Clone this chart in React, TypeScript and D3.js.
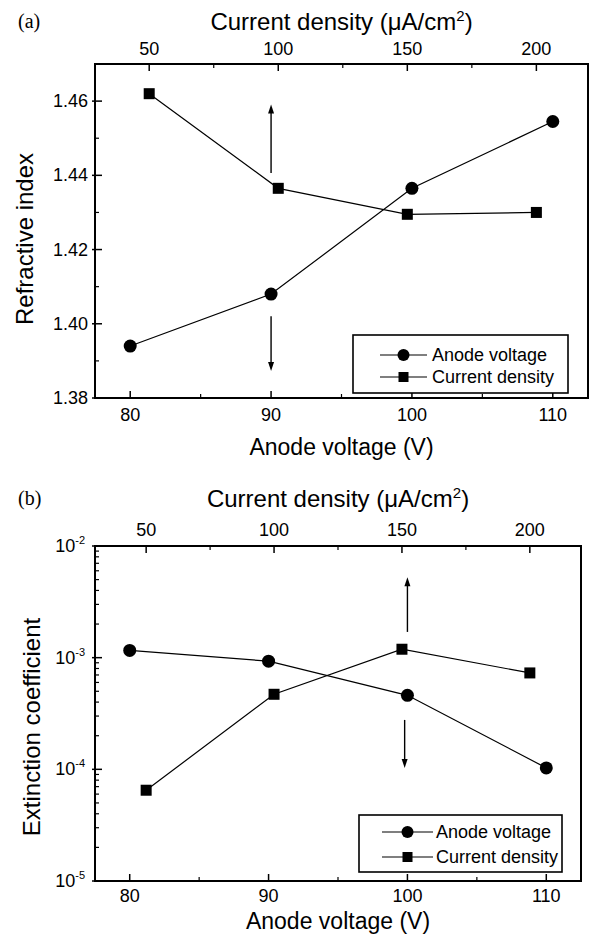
import React from "react";
import * as d3 from "d3";

// ---------- data ----------
const anodeVoltage = [80, 90, 100, 110];
const currentDensity = [50, 100, 150, 200];
const refractiveByVoltage = [1.394, 1.408, 1.4365, 1.4545];
const refractiveByCurrent = [1.462, 1.4365, 1.4295, 1.43];
const extinctionByVoltage = [1.16e-3, 9.3e-4, 4.6e-4, 1.03e-4];
const extinctionByCurrent = [6.5e-5, 4.7e-4, 1.19e-3, 7.3e-4];

const voltageTicks = [80, 90, 100, 110];
const voltageMinorTicks = [85, 95, 105];
const currentTicks = [50, 100, 150, 200];
const currentMinorTicks = [75, 125, 175];
const refractiveTicks = [1.38, 1.4, 1.42, 1.44, 1.46];
const refractiveMinorTicks = [1.39, 1.41, 1.43, 1.45, 1.47];
const extinctionTicks = [1e-5, 1e-4, 1e-3, 1e-2];
const extinctionTickExps = ["-5", "-4", "-3", "-2"];
const legendLabels = ["Anode voltage", "Current density"];

const arrowsA = [
  { x: 90, from: 1.4406, to: 1.4591 },
  { x: 90, from: 1.402, to: 1.3873 },
];
const arrowsB = [
  { x: 100, from: 1.7e-3, to: 5.25e-3 },
  { x: 99.8, from: 2.77e-4, to: 1.03e-4 },
];

const FONT = "'Liberation Sans', Arial, Helvetica, sans-serif";

type PanelProps = {
  label: string;
  left: number;
  right: number;
  top: number;
  bottom: number;
  log: boolean;
  yTitle: string;
  yByVoltage: number[];
  yByCurrent: number[];
  arrows: { x: number; from: number; to: number }[];
  currentDomain: [number, number];
  legend: { x0: number; y0: number; x1: number; y1: number; row1: number; row2: number; lineX0: number; lineX1: number; textX: number };
  titleY: number;
  tickLabelY: number;
  xTitleY: number;
  yTitleX: number;
  yTitleCY: number;
  topTitleY: number;
  topTickY: number;
};

function Panel(p: PanelProps) {
  const x = d3.scaleLinear().domain([77.5, 112.5]).range([p.left, p.right]);
  const xTop = d3.scaleLinear().domain(p.currentDomain).range([p.left, p.right]);
  const y: any = p.log
    ? d3.scaleLog().domain([1e-5, 1e-2]).range([p.bottom, p.top])
    : d3.scaleLinear().domain([1.38, 1.47]).range([p.bottom, p.top]);

  const line = d3.line<[number, number]>().x((d) => d[0]).y((d) => d[1]);
  const vPts: [number, number][] = anodeVoltage.map((v, i) => [x(v), y(p.yByVoltage[i])]);
  const cPts: [number, number][] = currentDensity.map((c, i) => [xTop(c), y(p.yByCurrent[i])]);

  const majorLen = 7;
  const minorLen = 4;

  let yMajor: number[] = [];
  let yMinor: number[] = [];
  if (p.log) {
    yMajor = extinctionTicks;
    for (const t of extinctionTicks.slice(0, 3)) {
      for (const m of [2, 3, 4, 5, 6, 7, 8, 9]) yMinor.push(t * m);
    }
  } else {
    yMajor = refractiveTicks;
    yMinor = refractiveMinorTicks;
  }

  const cx = (p.left + p.right) / 2;
  const sq = 11;

  return (
    <g>
      <text x={18} y={p.titleY} fontFamily="'Liberation Serif', 'Times New Roman', serif" fontSize={20}>
        {p.label}
      </text>
      {/* top title */}
      <text x={cx} y={p.topTitleY} textAnchor="middle" fontFamily={FONT} fontSize={24}>
        Current density (μA/cm
        <tspan dy={-9} fontSize={15}>2</tspan>
        <tspan dy={9}>)</tspan>
      </text>
      {/* frame */}
      <rect x={p.left} y={p.top} width={p.right - p.left} height={p.bottom - p.top} fill="none" stroke="#000" strokeWidth={2} />
      {/* bottom ticks */}
      {voltageTicks.map((t) => (
        <g key={"vb" + t}>
          <line x1={x(t)} x2={x(t)} y1={p.bottom} y2={p.bottom - majorLen} stroke="#000" strokeWidth={1.5} />
          <text x={x(t)} y={p.tickLabelY} textAnchor="middle" fontFamily={FONT} fontSize={18}>
            {t}
          </text>
        </g>
      ))}
      {voltageMinorTicks.map((t) => (
        <line key={"vm" + t} x1={x(t)} x2={x(t)} y1={p.bottom} y2={p.bottom - minorLen} stroke="#000" strokeWidth={1.2} />
      ))}
      {/* top ticks */}
      {currentTicks.map((t) => (
        <g key={"ct" + t}>
          <line x1={xTop(t)} x2={xTop(t)} y1={p.top} y2={p.top + majorLen} stroke="#000" strokeWidth={1.5} />
          <text x={xTop(t)} y={p.topTickY} textAnchor="middle" fontFamily={FONT} fontSize={18}>
            {t}
          </text>
        </g>
      ))}
      {currentMinorTicks.map((t) => (
        <line key={"cm" + t} x1={xTop(t)} x2={xTop(t)} y1={p.top} y2={p.top + minorLen} stroke="#000" strokeWidth={1.2} />
      ))}
      {/* left ticks */}
      {yMajor.map((t, i) => (
        <g key={"ym" + i}>
          <line x1={p.left - 3} x2={p.left + majorLen} y1={y(t)} y2={y(t)} stroke="#000" strokeWidth={1.5} />
          {p.log ? (
            <text x={p.left - 10} y={y(t) + 6} textAnchor="end" fontFamily={FONT} fontSize={18}>
              10
              <tspan dy={-8} fontSize={11}>{extinctionTickExps[i]}</tspan>
            </text>
          ) : (
            <text x={p.left - 7} y={y(t) + 6} textAnchor="end" fontFamily={FONT} fontSize={18}>
              {t.toFixed(2)}
            </text>
          )}
        </g>
      ))}
      {yMinor.map((t, i) => (
        <line key={"yn" + i} x1={p.left} x2={p.left + minorLen} y1={y(t)} y2={y(t)} stroke="#000" strokeWidth={1.2} />
      ))}
      {/* axis titles */}
      <text x={cx} y={p.xTitleY} textAnchor="middle" fontFamily={FONT} fontSize={23}>
        Anode voltage (V)
      </text>
      <text
        transform={`translate(${p.yTitleX},${p.yTitleCY}) rotate(-90)`}
        textAnchor="middle"
        fontFamily={FONT}
        fontSize={24}
      >
        {p.yTitle}
      </text>
      {/* arrows */}
      {p.arrows.map((a, i) => {
        const ax = x(a.x);
        const y1 = y(a.from);
        const y2 = y(a.to);
        const dir = y2 < y1 ? -1 : 1;
        const head = 9;
        return (
          <g key={"ar" + i}>
            <line x1={ax} x2={ax} y1={y1} y2={y2 - dir * head * 0.6} stroke="#000" strokeWidth={1.4} />
            <path d={`M${ax},${y2} L${ax - 3},${y2 - dir * head} L${ax + 3},${y2 - dir * head} Z`} fill="#000" />
          </g>
        );
      })}
      {/* data lines */}
      <path d={line(vPts) || ""} fill="none" stroke="#000" strokeWidth={1.2} />
      <path d={line(cPts) || ""} fill="none" stroke="#000" strokeWidth={1.2} />
      {vPts.map((d, i) => (
        <circle key={"vp" + i} cx={d[0]} cy={d[1]} r={6.5} fill="#000" />
      ))}
      {cPts.map((d, i) => (
        <rect key={"cp" + i} x={d[0] - sq / 2} y={d[1] - sq / 2} width={sq} height={sq} fill="#000" />
      ))}
      {/* legend */}
      <rect
        x={p.legend.x0}
        y={p.legend.y0}
        width={p.legend.x1 - p.legend.x0}
        height={p.legend.y1 - p.legend.y0}
        fill="#fff"
        stroke="#000"
        strokeWidth={1.6}
      />
      {legendLabels.map((lab, i) => {
        const ly = i === 0 ? p.legend.row1 : p.legend.row2;
        const mx = (p.legend.lineX0 + p.legend.lineX1) / 2;
        return (
          <g key={"lg" + i}>
            <line x1={p.legend.lineX0} x2={p.legend.lineX1} y1={ly} y2={ly} stroke="#000" strokeWidth={1.2} />
            {i === 0 ? (
              <circle cx={mx} cy={ly} r={6} fill="#000" />
            ) : (
              <rect x={mx - 5} y={ly - 5} width={10} height={10} fill="#000" />
            )}
            <text x={p.legend.textX} y={ly + 6} fontFamily={FONT} fontSize={18}>
              {lab}
            </text>
          </g>
        );
      })}
    </g>
  );
}

export default function App() {
  return (
    <svg
      width={595}
      height={945}
      viewBox="0 0 595 945"
      style={{ position: "absolute", left: 0, top: 0, background: "#fff" }}
    >
      <rect width={595} height={945} fill="#fff" />
      <Panel
        label="(a)"
        left={95}
        right={588}
        top={64}
        bottom={398}
        log={false}
        yTitle="Refractive index"
        yByVoltage={refractiveByVoltage}
        yByCurrent={refractiveByCurrent}
        arrows={arrowsA}
        currentDomain={[29, 220]}
        legend={{ x0: 353, y0: 335, x1: 568, y1: 393, row1: 355, row2: 377, lineX0: 380, lineX1: 427, textX: 432 }}
        titleY={28}
        topTitleY={30}
        topTickY={55}
        tickLabelY={421}
        xTitleY={455}
        yTitleX={33}
        yTitleCY={239}
      />
      <Panel
        label="(b)"
        left={95}
        right={581}
        top={546}
        bottom={881}
        log={true}
        yTitle="Extinction coefficient"
        yByVoltage={extinctionByVoltage}
        yByCurrent={extinctionByCurrent}
        arrows={arrowsB}
        currentDomain={[30, 220]}
        legend={{ x0: 359, y0: 815, x1: 562, y1: 872, row1: 832, row2: 857, lineX0: 382, lineX1: 433, textX: 436 }}
        titleY={505}
        topTitleY={507}
        topTickY={536}
        tickLabelY={902}
        xTitleY={929}
        yTitleX={40}
        yTitleCY={727}
      />
    </svg>
  );
}
